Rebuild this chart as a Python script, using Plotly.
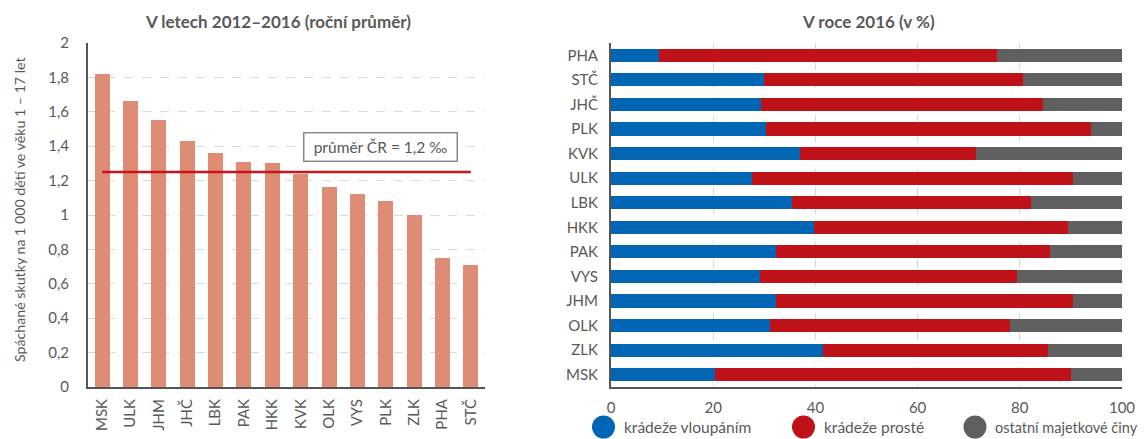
import plotly.graph_objects as go

# Left chart data
regions_left = ["MSK", "ULK", "JHM", "JHČ", "LBK", "PAK", "HKK", "KVK", "OLK", "VYS", "PLK", "ZLK", "PHA", "STČ"]
rate_left = [1.82, 1.66, 1.55, 1.43, 1.36, 1.31, 1.30, 1.24, 1.16, 1.12, 1.08, 1.00, 0.75, 0.71]
avg_cr = 1.25

# Right chart data (percent shares, 2016)
regions_right = ["PHA", "STČ", "JHČ", "PLK", "KVK", "ULK", "LBK", "HKK", "PAK", "VYS", "JHM", "OLK", "ZLK", "MSK"]
vloupani = [9.3, 30.0, 29.4, 30.4, 36.9, 27.6, 35.5, 39.8, 32.2, 29.1, 32.2, 31.1, 41.4, 20.3]
proste = [66.3, 50.7, 55.1, 63.5, 34.6, 62.8, 46.6, 49.6, 53.8, 50.3, 58.2, 46.9, 44.2, 69.7]
ostatni = [24.4, 19.3, 15.5, 6.1, 28.5, 9.6, 17.9, 10.6, 14.0, 20.6, 9.6, 22.0, 14.4, 10.0]
series_names = ["krádeže vloupáním", "krádeže prosté", "ostatní majetkové činy"]
series_colors = ["#0066b3", "#be1218", "#5f5f5f"]

# page body margin offset (8px) -> figure sized to the visible area
OX, OY = 8, 8
W, H = 1140, 431


def px(x):
    return (x - OX) / W


def py(y):
    return 1 - (y - OY) / H


FONT = "Lato"
TXT = "#595959"
GRID = "#d9d9d9"
AXIS = "#555555"

fig = go.Figure()

fig.add_trace(go.Bar(x=regions_left, y=rate_left, marker=dict(color="#de8c73", line=dict(width=0)),
                     xaxis="x", yaxis="y", showlegend=False))
fig.add_trace(go.Scatter(x=[regions_left[0], regions_left[-1]], y=[avg_cr, avg_cr], mode="lines",
                         line=dict(color="#c8141e", width=2.5), xaxis="x", yaxis="y", showlegend=False))

for vals, name, col in zip([vloupani, proste, ostatni], series_names, series_colors):
    fig.add_trace(go.Bar(y=regions_right, x=vals, orientation="h", name=name,
                         marker=dict(color=col, line=dict(width=0)),
                         xaxis="x2", yaxis="y2", showlegend=False))

y_dom = [py(387), py(43)]
TF = 15

fig.update_layout(
    width=W, height=H,
    margin=dict(l=0, r=0, t=0, b=0, autoexpand=False),
    paper_bgcolor="white", plot_bgcolor="white",
    separators=", ",
    font=dict(family=FONT, color=TXT, size=TF),
    barmode="stack",
    bargap=0.47,
    showlegend=False,
    xaxis=dict(domain=[px(88), px(485)], type="category", tickangle=-90, automargin=False,
               showline=True, linecolor=AXIS, linewidth=2, ticks="", ticklabelstandoff=4,
               tickfont=dict(size=TF, color=TXT), showgrid=False, anchor="y"),
    yaxis=dict(domain=y_dom, range=[0, 2], dtick=0.2, showline=True, linecolor=AXIS, linewidth=2,
               automargin=False, ticklabelstandoff=14,
               showgrid=True, gridcolor=GRID, griddash="dash", gridwidth=1, zeroline=False,
               ticks="", tickfont=dict(size=TF, color=TXT), anchor="x"),
    xaxis2=dict(domain=[px(611), px(1122)], range=[0, 100], dtick=20, showline=True, linecolor=AXIS,
                linewidth=2, showgrid=True, gridcolor=GRID, griddash="dash", zeroline=False,
                automargin=False, ticklabelstandoff=6,
                ticks="", tickfont=dict(size=TF, color=TXT), anchor="y2"),
    yaxis2=dict(domain=y_dom, type="category", categoryorder="array", categoryarray=regions_right,
                autorange="reversed", showline=True, linecolor=AXIS, linewidth=2, ticks="",
                automargin=False, ticklabelstandoff=8,
                tickfont=dict(size=TF, color=TXT), anchor="x2", showgrid=False),
)

fig.add_annotation(text="<b>V letech 2012–2016 (roční průměr)</b>", x=px(278), y=py(22),
                   xref="paper", yref="paper", xanchor="center", yanchor="middle",
                   showarrow=False, font=dict(size=17, color=TXT))
fig.add_annotation(text="<b>V roce 2016 (v %)</b>", x=px(868), y=py(22),
                   xref="paper", yref="paper", xanchor="center", yanchor="middle",
                   showarrow=False, font=dict(size=17, color=TXT))
fig.add_annotation(text="Spáchané skutky na 1 000 dětí ve věku 1 – 17 let", x=px(19), y=py(210),
                   xref="paper", yref="paper", xanchor="center", yanchor="middle",
                   showarrow=False, textangle=-90, font=dict(size=14.2, color=TXT))
fig.add_annotation(text="průměr ČR = 1,2 ‰", x=px(380.5), y=py(147), xref="paper", yref="paper",
                   xanchor="center", yanchor="middle", width=144, height=19,
                   showarrow=False, bordercolor="#8a8a8a", borderwidth=1.5, borderpad=4,
                   bgcolor="white", font=dict(size=15.5, color=TXT))

# Legend drawn as circles + labels below the right chart
leg_cx = [603.5, 803.5, 975]
leg_fs = [15.5, 15.5, 14.5]
leg_y = 427
R = 11.5
for cx, fs, name, col in zip(leg_cx, leg_fs, series_names, series_colors):
    fig.add_shape(type="circle", xref="paper", yref="paper",
                  x0=px(cx - R), x1=px(cx + R), y0=py(leg_y + R), y1=py(leg_y - R),
                  fillcolor=col, line=dict(width=0))
    fig.add_annotation(text=name, x=px(cx + 18), y=py(leg_y), xref="paper", yref="paper",
                       xanchor="left", yanchor="middle", showarrow=False,
                       font=dict(size=fs, color=TXT))

fig.write_html("out.html")
